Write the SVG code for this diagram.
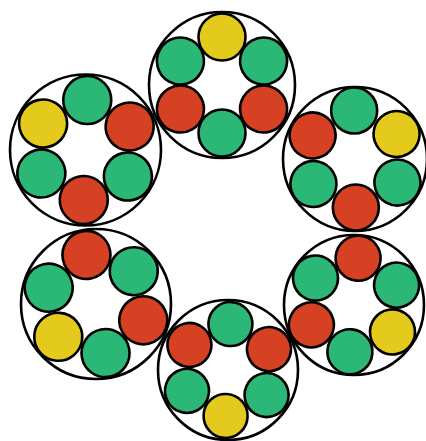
<svg xmlns="http://www.w3.org/2000/svg" width="426" height="441" viewBox="0 0 426 441">
<style>
.big{fill:none;stroke:#000;stroke-width:2.6}
.s{stroke:#000;stroke-width:2.6}
.g{fill:#2BB877}
.r{fill:#D54122}
.y{fill:#E5CA1E}
</style>
<rect width="426" height="441" fill="#fff"/>
<g id="ring-top" transform="translate(222,85)">
<circle class="big" r="73"/>
<g transform="rotate(0)">
<circle class="s y" cx="0" cy="-48" r="23.5"/>
<circle class="s g" cx="0" cy="-48" r="23.5" transform="rotate(60)"/>
<circle class="s r" cx="0" cy="-48" r="23.5" transform="rotate(120)"/>
<circle class="s g" cx="0" cy="-48" r="23.5" transform="rotate(180)"/>
<circle class="s r" cx="0" cy="-48" r="23.5" transform="rotate(240)"/>
<circle class="s g" cx="0" cy="-48" r="23.5" transform="rotate(300)"/>
</g>
</g>
<g id="ring-upper-left" transform="translate(85.5,150)">
<circle class="big" r="75.5"/>
<g transform="rotate(2)">
<circle class="s g" cx="0" cy="-50" r="24"/>
<circle class="s r" cx="0" cy="-50" r="24" transform="rotate(60)"/>
<circle class="s g" cx="0" cy="-50" r="24" transform="rotate(120)"/>
<circle class="s r" cx="0" cy="-50" r="24" transform="rotate(180)"/>
<circle class="s g" cx="0" cy="-50" r="24" transform="rotate(240)"/>
<circle class="s y" cx="0" cy="-50" r="24" transform="rotate(300)"/>
</g>
</g>
<g id="ring-upper-right" transform="translate(355,159)">
<circle class="big" r="72"/>
<g transform="rotate(-1)">
<circle class="s g" cx="0" cy="-48.5" r="23"/>
<circle class="s y" cx="0" cy="-48.5" r="23" transform="rotate(60)"/>
<circle class="s g" cx="0" cy="-48.5" r="23" transform="rotate(120)"/>
<circle class="s r" cx="0" cy="-48.5" r="23" transform="rotate(180)"/>
<circle class="s g" cx="0" cy="-48.5" r="23" transform="rotate(240)"/>
<circle class="s r" cx="0" cy="-48.5" r="23" transform="rotate(300)"/>
</g>
</g>
<g id="ring-lower-left" transform="translate(96,304)">
<circle class="big" r="75"/>
<g transform="rotate(-11)">
<circle class="s r" cx="0" cy="-50" r="24"/>
<circle class="s g" cx="0" cy="-50" r="24" transform="rotate(60)"/>
<circle class="s r" cx="0" cy="-50" r="24" transform="rotate(120)"/>
<circle class="s g" cx="0" cy="-50" r="24" transform="rotate(180)"/>
<circle class="s y" cx="0" cy="-50" r="24" transform="rotate(240)"/>
<circle class="s g" cx="0" cy="-50" r="24" transform="rotate(300)"/>
</g>
</g>
<g id="ring-lower-right" transform="translate(354,305)">
<circle class="big" r="70"/>
<g transform="rotate(5)">
<circle class="s r" cx="0" cy="-47" r="22.5"/>
<circle class="s g" cx="0" cy="-47" r="22.5" transform="rotate(60)"/>
<circle class="s y" cx="0" cy="-47" r="22.5" transform="rotate(120)"/>
<circle class="s g" cx="0" cy="-47" r="22.5" transform="rotate(180)"/>
<circle class="s r" cx="0" cy="-47" r="22.5" transform="rotate(240)"/>
<circle class="s g" cx="0" cy="-47" r="22.5" transform="rotate(300)"/>
</g>
</g>
<g id="ring-bottom" transform="translate(228,370)">
<circle class="big" r="70"/>
<g transform="rotate(3)">
<circle class="s g" cx="0" cy="-46" r="22"/>
<circle class="s r" cx="0" cy="-46" r="22" transform="rotate(60)"/>
<circle class="s g" cx="0" cy="-46" r="22" transform="rotate(120)"/>
<circle class="s y" cx="0" cy="-46" r="22" transform="rotate(180)"/>
<circle class="s g" cx="0" cy="-46" r="22" transform="rotate(240)"/>
<circle class="s r" cx="0" cy="-46" r="22" transform="rotate(300)"/>
</g>
</g>
</svg>
